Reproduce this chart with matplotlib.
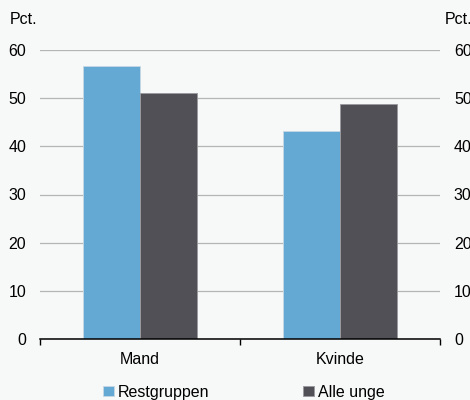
import matplotlib.pyplot as plt
import numpy as np

plt.rcParams['font.family'] = ['Liberation Sans', 'DejaVu Sans']

categories = ["Mand", "Kvinde"]
restgruppen = [56.7, 43.2]
alle_unge = [51.0, 48.8]
yticks = [0, 10, 20, 30, 40, 50, 60]

bg = '#f7f8f8'
fs = 11.5
fig = plt.figure(figsize=(4.7, 4.0), dpi=100, facecolor=bg)
ax = fig.add_axes([40/470, 1 - 339/400, 400/470, 289/400], facecolor=bg)

x = np.arange(len(categories))
w = 0.285
ax.bar(x - w/2, restgruppen, w, color='#64a9d4', edgecolor='#c8d8e4', linewidth=0.6,
       label='Restgruppen', zorder=3)
ax.bar(x + w/2, alle_unge, w, color='#505056', edgecolor='#9a9a9e', linewidth=0.6,
       label='Alle unge', zorder=3)

ax.set_xlim(-0.5, 1.5)
ax.set_ylim(0, 60)
ax.set_yticks(yticks)
ax.yaxis.grid(True, color='#b5b5b5', linewidth=0.9, zorder=0)
ax.tick_params(axis='y', length=0, labelsize=fs, pad=10,
               left=True, right=True, labelleft=True, labelright=True)
ax.set_xticks(x)
ax.set_xticklabels(categories, fontsize=fs)
ax.set_xticks([-0.5, 0.5, 1.5], minor=True)
ax.tick_params(axis='x', which='major', length=0, pad=9)
ax.tick_params(axis='x', which='minor', length=4, direction='out', width=1)

for s in ['top', 'left', 'right']:
    ax.spines[s].set_visible(False)
ax.spines['bottom'].set_linewidth(1.1)
ax.spines['bottom'].set_zorder(4)

fig.text(10/470, 1 - 20/400, 'Pct.', fontsize=fs, va='center', ha='left')
fig.text(445/470, 1 - 20/400, 'Pct.', fontsize=fs, va='center', ha='left')

fig.legend(loc='center', bbox_to_anchor=(244/470, 1 - 392/400), ncol=2, frameon=False,
           fontsize=fs, handlelength=0.65, handleheight=0.65, handletextpad=0.25,
           columnspacing=5.9)

fig.savefig('out.png', dpi=100, facecolor=bg)
